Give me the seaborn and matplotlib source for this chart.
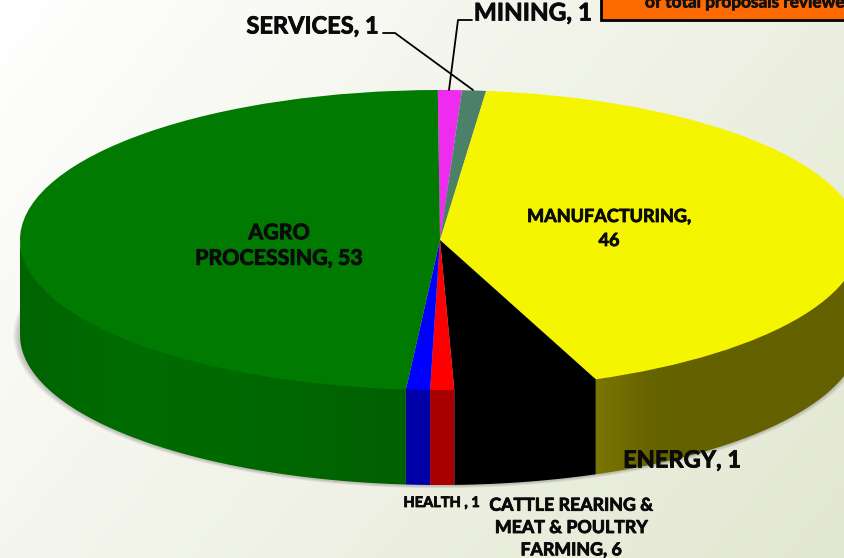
import numpy as np
import matplotlib
matplotlib.use("Agg")
import matplotlib.pyplot as plt
import matplotlib.patheffects as pe
from matplotlib.patches import Polygon, Ellipse, Rectangle
from matplotlib.lines import Line2D
import seaborn as sns

# ---- data, clockwise from twelve o'clock ----
names = ["SERVICES", "MINING", "MANUFACTURING", "CATTLE REARING & MEAT & POULTRY FARMING",
         "ENERGY", "HEALTH", "AGRO PROCESSING"]
values = [1, 1, 46, 6, 1, 1, 53]
top_colors = ["#EE2BEE", "#4C8068", "#F5F500", "#000000", "#FF0000", "#0000FF", "#007A00"]
side_stops = [
    ["#8F1A8F", "#8F1A8F"],
    ["#2E4D3E", "#2E4D3E"],
    ["#7A7500", "#666300", "#646200", "#646200", "#646200", "#646200"],
    ["#000000", "#000000"],
    ["#A80000", "#A80000"],
    ["#0000A8", "#0000A8"],
    ["#006400", "#006C00", "#006A00", "#006600", "#006000"],
]
box_caption = "of total proposals reviewed"

W, H = 844, 558
CX, CY, RX, RY, DEPTH = 440, 240, 420, 150, 95

sns.set_theme(style="white")
plt.rcParams["font.family"] = ["Lato", "DejaVu Sans"]
plt.rcParams["font.weight"] = "bold"

fig = plt.figure(figsize=(W / 100, H / 100), dpi=100)
ax = fig.add_axes([0, 0, 1, 1])

xlim = (-CX / RX, (W - CX) / RX)
ylim = (-(H - CY) / RY, CY / RY)
depth = DEPTH / RY

# top face
wedges, _ = ax.pie(values, colors=top_colors, startangle=90.3, counterclock=False,
                   radius=1, wedgeprops=dict(linewidth=0, zorder=5, antialiased=True))
ax.set_aspect("auto")

# background
yy, xx = np.mgrid[0:1:140j, 0:1:210j]
t = np.clip(0.65 * xx + 0.35 * yy, 0, 1)
c0, c1 = np.array([1.0, 1.0, 1.0]), np.array([226, 231, 208]) / 255
bg = c0 + (c1 - c0) * t[..., None]
ax.imshow(bg, extent=(xlim[0], xlim[1], ylim[0], ylim[1]), origin="upper",
          aspect="auto", zorder=0)

# soft shadow under the body
for i in range(6):
    grow = 0.014 * (6 - i) / 6
    ax.add_patch(Ellipse((-0.002, -depth - 0.004), 2 * (1 + grow), 2 * (1 + grow * 1.3),
                         facecolor="#555555", alpha=0.06, linewidth=0, zorder=1))

# extruded side
for w, stops in zip(wedges, side_stops):
    lo, hi = max(w.theta1, -180), min(w.theta2, 0)
    if hi <= lo:
        continue
    a = np.radians(np.linspace(lo, hi, 200))
    px, py = np.cos(a), np.sin(a)
    poly = np.vstack([np.c_[px, py + 0.012], np.c_[px[::-1], py[::-1] - depth]])
    patch = Polygon(poly, closed=True, transform=ax.transData, facecolor="none", edgecolor="none")
    ax.add_patch(patch)
    ramp = np.array(sns.blend_palette(stops, 64))[None, :, :]
    im = ax.imshow(ramp, extent=(px.min(), px.max(), py.min() - depth, py.max() + 0.012),
                   aspect="auto", zorder=2, interpolation="bilinear")
    im.set_clip_path(patch)

ax.set_xlim(*xlim)
ax.set_ylim(*ylim)
ax.axis("off")


def fx(x):
    return x / W


def fy(y):
    return 1 - y / H


# orange box at the top
fig.patches.append(Rectangle((fx(602), fy(22)), 1, 0.1, transform=fig.transFigure,
                             facecolor="#999999", edgecolor="none", alpha=0.5, zorder=6))
fig.patches.append(Rectangle((fx(600.5), fy(20)), 1, 0.1, transform=fig.transFigure,
                             facecolor="#FF6A00", edgecolor="black", linewidth=2, zorder=7))
cap = fig.text(fx(645), fy(2.5), box_caption, fontsize=12.4, va="center", ha="left",
               color="#111111", zorder=8, fontweight="bold")
cap.set_path_effects([pe.withStroke(linewidth=0.5, foreground="#111111")])

# leader lines
for xs, ys in [([383, 395, 473], [33, 33, 90]), ([472, 458, 449], [20, 20, 90])]:
    fig.add_artist(Line2D([fx(v) for v in xs], [fy(v) for v in ys], color="black",
                          linewidth=1.3, zorder=9, transform=fig.transFigure))

# labels
labels = [
    (f"{names[0]}, {values[0]}", 312.5, 26, 17, 1.2),
    (f"{names[1]}, {values[1]}", 533, 13, 17.5, 1.2),
    (f"MANUFACTURING,\n{values[2]}", 609, 228.5, 13, 1.5),
    (f"AGRO\nPROCESSING, {values[6]}", 279, 246, 15.4, 1.35),
    (f"{names[4]}, {values[4]}", 682, 460, 17, 1.2),
    (f"{names[5]} , {values[5]}", 441.5, 503, 10.5, 1.2),
    (f"CATTLE REARING &\nMEAT & POULTRY\nFARMING, {values[3]}", 571, 527.5, 12.8, 1.38),
]
for text, x, y, size, spacing in labels:
    t_ = fig.text(fx(x), fy(y), text, fontsize=size, ha="center", va="center",
                  multialignment="center", color="#0A0A0A", zorder=10,
                  linespacing=spacing, fontweight="bold")
    t_.set_path_effects([pe.withStroke(linewidth=0.6, foreground="#0A0A0A")])

fig.savefig("out.png", dpi=100)
